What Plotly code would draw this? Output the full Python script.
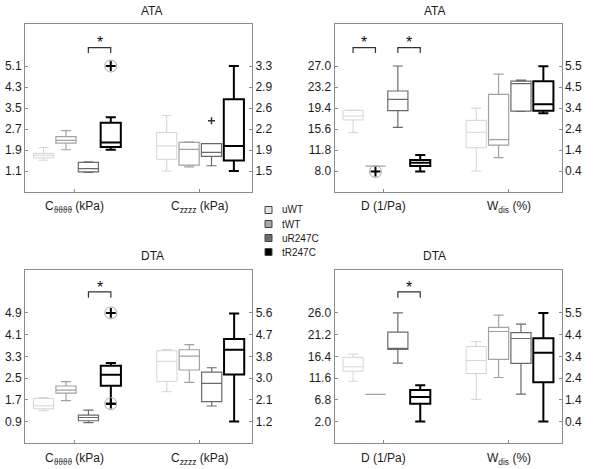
import plotly.graph_objects as go
import numpy as np

# ---------------- data ----------------
groups = ["uWT", "tWT", "uR247C", "tR247C"]

panel_titles = ["ATA", "ATA", "DTA", "DTA"]
measure_labels = [
    ["C<sub>ϑϑϑϑ</sub> (kPa)", "C<sub>zzzz</sub> (kPa)"],
    ["D (1/Pa)", "W<sub>dis</sub> (%)"],
    ["C<sub>ϑϑϑϑ</sub> (kPa)", "C<sub>zzzz</sub> (kPa)"],
    ["D (1/Pa)", "W<sub>dis</sub> (%)"],
]

# box statistics per group (uWT, tWT, uR247C, tR247C)
ata_ctt = dict(lower=[1.51, 1.91, 1.05, 1.91], q1=[1.60, 2.16, 1.07, 2.01],
               median=[1.70, 2.27, 1.19, 2.19], q3=[1.77, 2.41, 1.43, 2.94],
               upper=[1.99, 2.64, 1.45, 3.15])
ata_czz = dict(lower=[1.50, 1.57, 1.59, 1.50], q1=[1.70, 1.60, 1.75, 1.68],
               median=[1.93, 1.87, 1.82, 1.93], q3=[2.16, 1.99, 1.97, 2.73],
               upper=[2.45, 2.00, 1.97, 3.30])
ata_d = dict(lower=[14.93, 8.9, 15.9, 7.9], q1=[17.23, 8.9, 18.92, 8.9],
             median=[17.95, 8.9, 20.97, 9.5], q3=[18.98, 8.9, 22.48, 9.99],
             upper=[18.98, 8.9, 27.0, 10.9])
ata_wdis = dict(lower=[0.40, 1.05, 3.30, 3.20], q1=[1.53, 1.66, 3.31, 3.33],
                median=[2.28, 1.92, 4.64, 3.64], q3=[2.86, 4.12, 4.77, 4.76],
                upper=[3.45, 5.11, 4.82, 5.49])
dta_ctt = dict(lower=[1.30, 1.67, 0.86, 1.56], q1=[1.37, 1.95, 0.93, 2.22],
               median=[1.48, 2.06, 1.05, 2.62], q3=[1.75, 2.21, 1.14, 2.96],
               upper=[1.79, 2.37, 1.32, 3.06])
dta_czz = dict(lower=[2.41, 2.79, 1.83, 1.20], q1=[2.83, 3.29, 2.01, 3.11],
               median=[3.64, 3.85, 2.75, 4.11], q3=[4.07, 4.11, 3.20, 4.54],
               upper=[4.12, 4.32, 3.38, 5.58])
dta_d = dict(lower=[10.91, 8.0, 14.92, 2.0], q1=[13.14, 8.0, 17.97, 5.94],
             median=[14.10, 8.0, 17.97, 7.41], q3=[16.19, 8.0, 21.76, 8.97],
             upper=[16.92, 8.0, 26.0, 10.02])
dta_wdis = dict(lower=[1.44, 2.47, 1.69, 0.40], q1=[2.66, 3.32, 3.13, 2.25],
                median=[3.27, 4.63, 4.30, 3.63], q3=[3.92, 4.82, 4.58, 4.31],
                upper=[4.15, 5.40, 4.98, 5.50])

# outliers: (group index, value, circled)
ata_ctt_out = [(3, 5.1, True)]
ata_czz_out = [(2, 2.36, False)]
ata_d_out = [(1, 7.9, True)]
ata_wdis_out = []
dta_ctt_out = [(3, 4.9, True), (3, 1.56, True)]
dta_czz_out = []
dta_d_out = []
dta_wdis_out = []

# significance brackets (pairs of group indices)
sig_pairs = [[(2, 3)], [(0, 1), (2, 3)], [(2, 3)], [(2, 3)]]

# tick labels
left_ticks = [
    [1.1, 1.9, 2.7, 3.5, 4.3, 5.1],
    [8.0, 11.8, 15.6, 19.4, 23.2, 27.0],
    [0.9, 1.7, 2.5, 3.3, 4.1, 4.9],
    [2.0, 6.8, 11.6, 16.4, 21.2, 26.0],
]
right_tick_labels = [
    ["1.5", "1.9", "2.2", "2.6", "2.9", "3.3"],
    ["0.4", "1.4", "2.4", "3.4", "4.5", "5.5"],
    ["1.2", "2.1", "3.0", "3.8", "4.7", "5.6"],
    ["0.4", "1.4", "2.4", "3.4", "4.4", "5.5"],
]

left_data = [ata_ctt, ata_d, dta_ctt, dta_d]
right_data = [ata_czz, ata_wdis, dta_czz, dta_wdis]
left_out = [ata_ctt_out, ata_d_out, dta_ctt_out, dta_d_out]
right_out = [ata_czz_out, ata_wdis_out, dta_czz_out, dta_wdis_out]

# ---------------- style / layout ----------------
W, H = 601, 469
box_colors = ["#d4d4d4", "#a2a2a2", "#6a6a6a", "#000000"]
box_lw = [1.0, 1.2, 1.2, 2.0]
legend_fill = ["#e4e4e4", "#a6a6a6", "#6c6c6c", "#000000"]
frame_col = "#8c8c8c"
text_col = "#1c1c1c"
FONT = "Liberation Sans, Arial, sans-serif"

left_pos = [1, 2, 3, 4]
right_pos = [6.5, 7.5, 8.5, 9.5]
x_range = [0.17, 10.31]
group_tick_pos = [2.38, 7.96]

px_x = [(25, 252), (334.5, 561.5), (25, 252.3), (334.5, 561.5)]
px_y = [(24, 192), (24, 192), (269.5, 443.3), (269.5, 443.3)]
title_py = [11, 11, 256, 256]
xlabel_py = [197, 197, 449, 449]
bracket_f = [(0.859, 0.827, 0.905), (0.859, 0.827, 0.905),
             (0.871, 0.837, 0.915), (0.871, 0.837, 0.915)]


def ax_range(ticks):
    step = (ticks[-1] - ticks[0]) / 5.0
    return [ticks[0] - step, ticks[-1] + 2 * step]


fig = go.Figure()
layout = dict(width=W, height=H, margin=dict(l=0, r=0, t=0, b=0),
              paper_bgcolor="white", plot_bgcolor="white", showlegend=False,
              font=dict(family=FONT, size=12, color=text_col))
shapes = []
annotations = []

for p in range(4):
    xn = "x" if p == 0 else f"x{p + 1}"
    yl = f"y{2 * p + 1}" if p > 0 else "y"
    yr = f"y{2 * p + 2}"
    xkey = "xaxis" if p == 0 else f"xaxis{p + 1}"
    ylkey = "yaxis" if p == 0 else f"yaxis{2 * p + 1}"
    yrkey = f"yaxis{2 * p + 2}"

    xd = [px_x[p][0] / W, px_x[p][1] / W]
    yd = [1 - px_y[p][1] / H, 1 - px_y[p][0] / H]

    lt = left_ticks[p]
    lr = ax_range(lt)
    rlab = right_tick_labels[p]
    rvals = list(np.linspace(float(rlab[0]), float(rlab[-1]), len(rlab)))
    rr = ax_range(rvals)

    layout[xkey] = dict(domain=xd, range=x_range, anchor=yl, showline=True,
                        mirror=True, linecolor=frame_col, linewidth=1,
                        showgrid=False, zeroline=False, ticks="inside",
                        ticklen=3, tickcolor=frame_col,
                        tickvals=group_tick_pos, showticklabels=False)
    layout[ylkey] = dict(domain=yd, range=lr, anchor=xn, side="left",
                         showline=True, linecolor=frame_col, linewidth=1,
                         showgrid=False, zeroline=False, ticks="inside",
                         ticklen=3, tickcolor=frame_col, tickvals=lt,
                         ticktext=[f"{v:.1f}" for v in lt],
                         tickfont=dict(size=12, color=text_col))
    layout[yrkey] = dict(domain=yd, range=rr, anchor=xn, side="right",
                         overlaying=yl, showline=True, linecolor=frame_col,
                         linewidth=1, showgrid=False, zeroline=False,
                         ticks="inside", ticklen=3, tickcolor=frame_col,
                         tickvals=rvals, ticktext=rlab,
                         tickfont=dict(size=12, color=text_col))

    for k in range(2):
        annotations.append(dict(x=group_tick_pos[k], y=1 - xlabel_py[p] / H,
                                xref=xn, yref="paper", text=measure_labels[p][k],
                                showarrow=False, xanchor="center", yanchor="top",
                                font=dict(size=12, color=text_col)))

    for data, pos, ya in ((left_data[p], left_pos, yl), (right_data[p], right_pos, yr)):
        for g in range(4):
            fig.add_trace(go.Box(
                x=[pos[g]], q1=[data["q1"][g]], median=[data["median"][g]],
                q3=[data["q3"][g]], lowerfence=[data["lower"][g]],
                upperfence=[data["upper"][g]], xaxis=xn, yaxis=ya,
                width=0.9, whiskerwidth=0.5, boxpoints=False,
                line=dict(color=box_colors[g], width=box_lw[g]),
                fillcolor="rgba(0,0,0,0)", hoverinfo="skip", showlegend=False))

    for outs, pos, ya in ((left_out[p], left_pos, yl), (right_out[p], right_pos, yr)):
        for g, val, circ in outs:
            if circ:
                fig.add_trace(go.Scatter(
                    x=[pos[g]], y=[val], xaxis=xn, yaxis=ya, mode="markers",
                    marker=dict(symbol="circle-open", size=12, color="#a8a8a8",
                                line=dict(width=1, color="#a8a8a8")),
                    hoverinfo="skip", showlegend=False))
                fig.add_trace(go.Scatter(
                    x=[pos[g]], y=[val], xaxis=xn, yaxis=ya, mode="markers",
                    marker=dict(symbol="cross-thin", size=7, color="#000",
                                line=dict(width=2, color="#000")),
                    hoverinfo="skip", showlegend=False))
            else:
                fig.add_trace(go.Scatter(
                    x=[pos[g]], y=[val], xaxis=xn, yaxis=ya, mode="markers",
                    marker=dict(symbol="cross-thin", size=5, color="#333",
                                line=dict(width=1.5, color="#333")),
                    hoverinfo="skip", showlegend=False))

    ftop, fend, fstar = bracket_f[p]
    ytop = lr[0] + ftop * (lr[1] - lr[0])
    yend = lr[0] + fend * (lr[1] - lr[0])
    ystar = lr[0] + fstar * (lr[1] - lr[0])
    for a, b in sig_pairs[p]:
        xa, xb = left_pos[a], left_pos[b]
        shapes.append(dict(type="path", xref=xn, yref=yl,
                           path=f"M {xa},{yend} L {xa},{ytop} L {xb},{ytop} L {xb},{yend}",
                           line=dict(color="#333", width=1.2)))
        annotations.append(dict(x=(xa + xb) / 2, y=ystar, xref=xn, yref=yl,
                                text="*", showarrow=False, yanchor="middle",
                                yshift=-3, font=dict(size=16, color="#111")))

    annotations.append(dict(x=(xd[0] + xd[1]) / 2, y=1 - title_py[p] / H,
                            xref="paper", yref="paper", text=panel_titles[p],
                            showarrow=False, yanchor="middle",
                            font=dict(size=12, color=text_col)))

# legend
leg_x0 = 265
leg_rows = [210, 224, 238, 252]
for g in range(4):
    cy = leg_rows[g]
    shapes.append(dict(type="rect", xref="paper", yref="paper",
                       x0=leg_x0 / W, x1=(leg_x0 + 7) / W,
                       y0=1 - (cy + 3.5) / H, y1=1 - (cy - 3.5) / H,
                       fillcolor=legend_fill[g], line=dict(color="#444", width=1)))
    annotations.append(dict(x=(leg_x0 + 15) / W, y=1 - cy / H, xref="paper",
                            yref="paper", text=groups[g], showarrow=False,
                            xanchor="left", yanchor="middle",
                            font=dict(size=10, color=text_col)))

layout["shapes"] = shapes
layout["annotations"] = annotations
fig.update_layout(**layout)
fig.write_html("out.html", config={"displayModeBar": False},
               post_script="document.body.style.margin='0';"
                           "document.body.style.overflow='hidden';")
